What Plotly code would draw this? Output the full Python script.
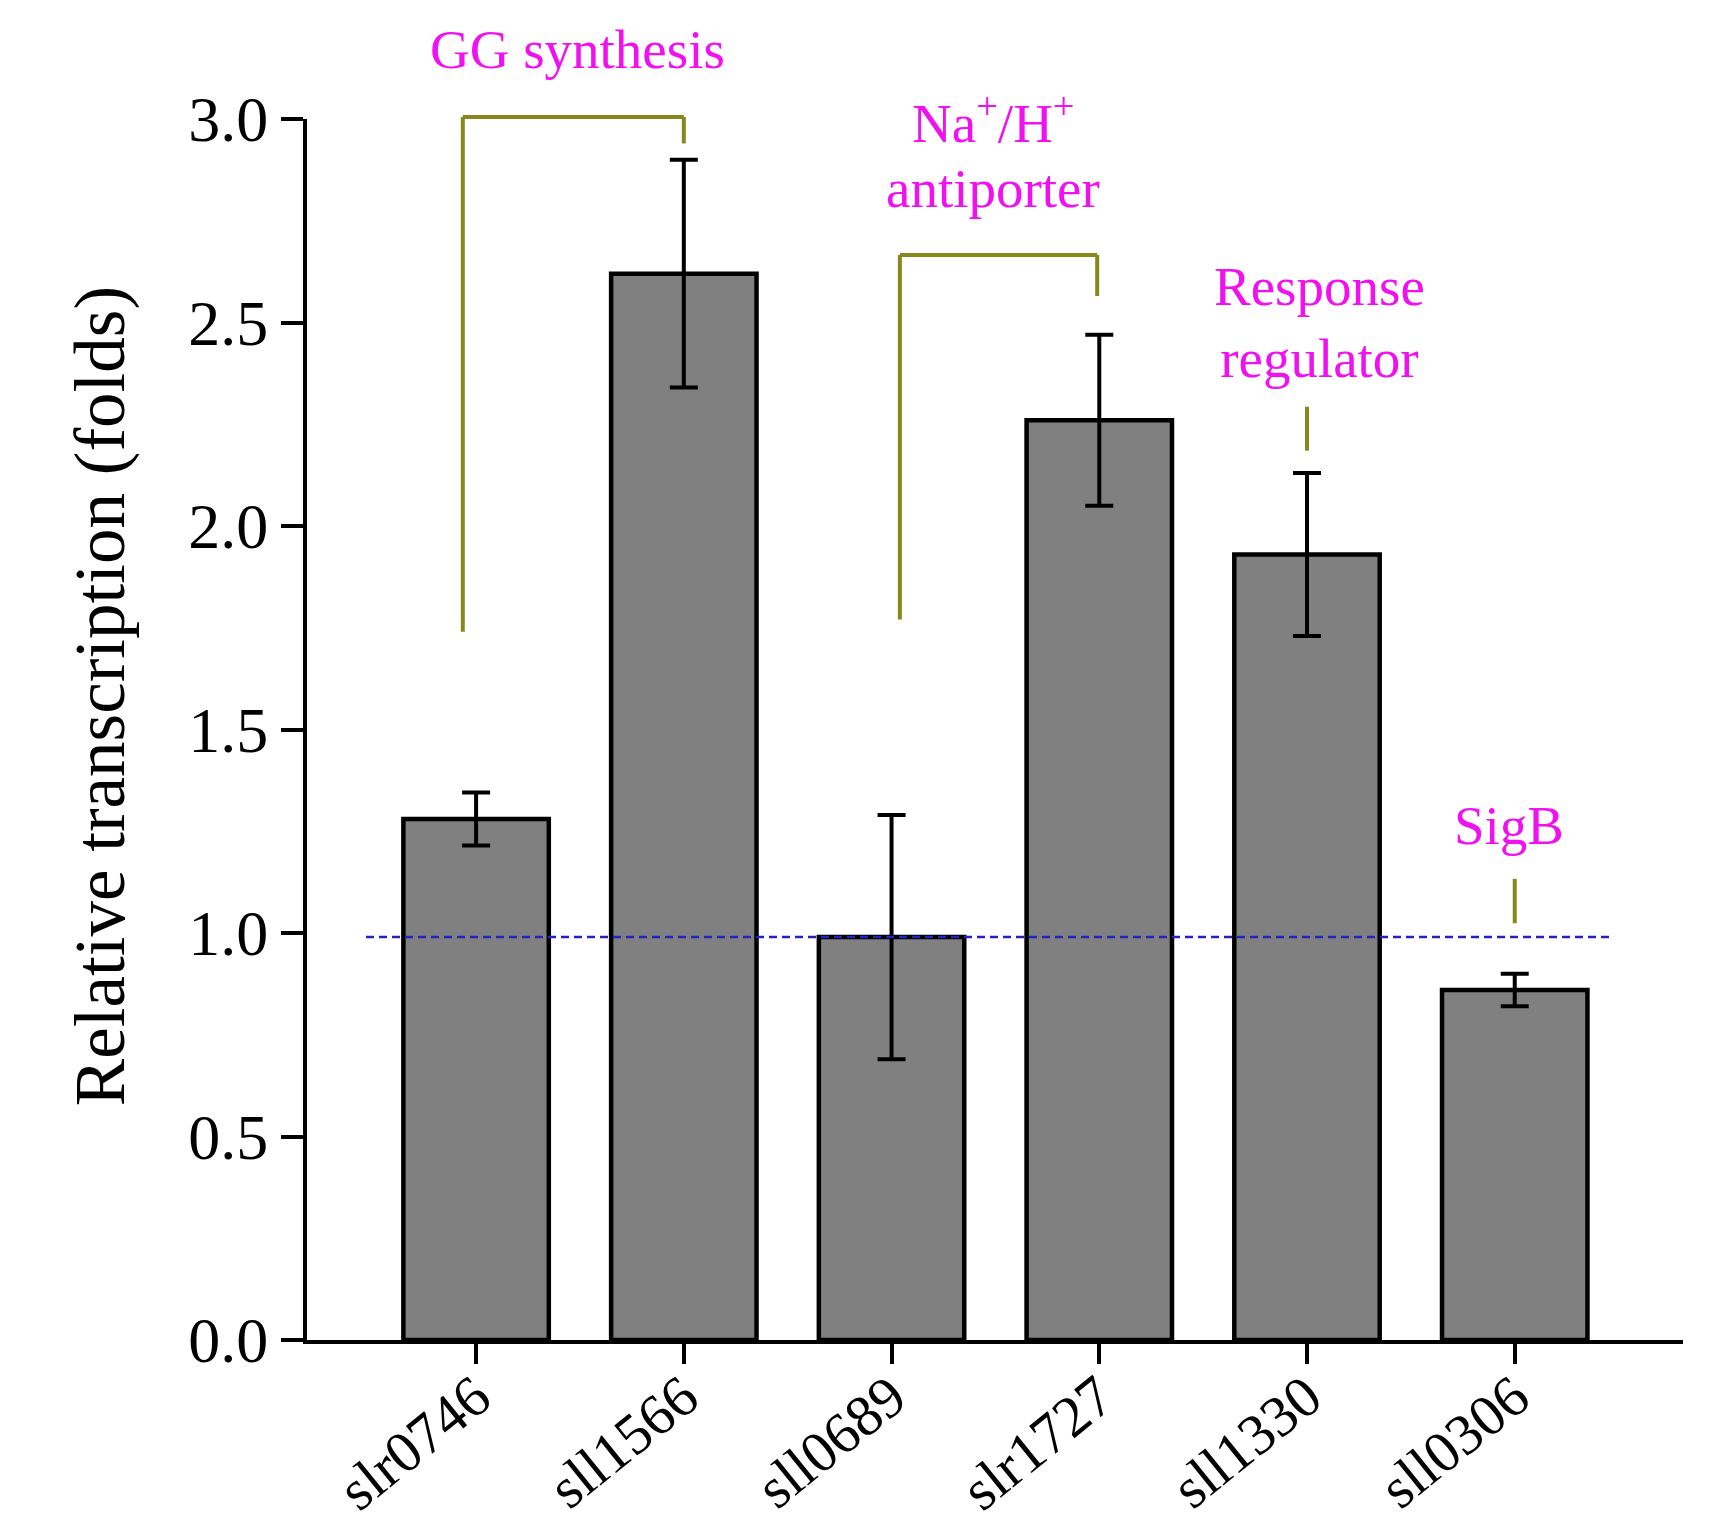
import plotly.graph_objects as go

# ---- data ----
genes = ["slr0746", "sll1566", "sll0689", "slr1727", "sll1330", "sll0306"]
values = [1.28, 2.62, 0.99, 2.26, 1.93, 0.86]
errors = [0.065, 0.28, 0.30, 0.21, 0.20, 0.04]
y_ticks = [0.0, 0.5, 1.0, 1.5, 2.0, 2.5, 3.0]
y_ticklabels = ["0.0", "0.5", "1.0", "1.5", "2.0", "2.5", "3.0"]
y_max = 3.0
ref_level = 0.99
ref_x = [-0.53, 5.46]

# annotation brackets (x in category index, y in folds)
gg_bracket_x = [-0.064, -0.064, 1.0, 1.0]
gg_bracket_y = [1.74, 3.005, 3.005, 2.94]
na_bracket_x = [2.04, 2.04, 2.99, 2.99]
na_bracket_y = [1.77, 2.666, 2.666, 2.565]
rr_line_x = [4.0, 4.0]
rr_line_y = [2.185, 2.293]
sig_line_x = [5.0, 5.0]
sig_line_y = [1.024, 1.133]

labels_text = ["GG synthesis", "Na<sup>+</sup>/H<sup>+</sup>", "antiporter",
               "Response<br>regulator", "SigB"]
labels_x = [0.49, 2.49, 2.49, 4.06, 4.97]
labels_y = [3.17, 3.0, 2.83, 2.50, 1.264]

y_title = "Relative transcription (folds)"

FONT = "Liberation Serif, Times New Roman, serif"
OLIVE = "#88881A"
MAGENTA = "#F010F0"

fig = go.Figure()

fig.add_trace(go.Bar(
    x=list(range(len(genes))), y=values, width=0.70,
    marker=dict(color="#808080", line=dict(color="black", width=4.5)),
    error_y=dict(type="data", array=errors, visible=True,
                 color="black", thickness=4, width=14),
    showlegend=False, hoverinfo="skip",
))

# reference dashed line
fig.add_trace(go.Scatter(
    x=ref_x, y=[ref_level, ref_level], mode="lines",
    line=dict(color="#2323C0", width=2.5, dash="8px,5px"),
    showlegend=False, hoverinfo="skip",
))

# bracket / pointer lines (y expressed as fraction of the y range so they are not clipped)
for xs, ys in [(gg_bracket_x, gg_bracket_y), (na_bracket_x, na_bracket_y),
               (rr_line_x, rr_line_y), (sig_line_x, sig_line_y)]:
    for i in range(len(xs) - 1):
        fig.add_shape(type="line", xref="x", yref="paper",
                      x0=xs[i], x1=xs[i + 1],
                      y0=ys[i] / y_max, y1=ys[i + 1] / y_max,
                      line=dict(color=OLIVE, width=4), layer="above")

for t, xx, yy in zip(labels_text, labels_x, labels_y):
    fig.add_annotation(x=xx, y=yy / y_max, xref="x", yref="paper",
                       text=t, showarrow=False,
                       font=dict(family=FONT, size=55, color=MAGENTA),
                       xanchor="center", yanchor="middle")

# y axis title placed as a rotated annotation
fig.add_annotation(x=-0.150, y=0.527, xref="paper", yref="paper",
                   text=y_title, textangle=-90, showarrow=False,
                   font=dict(family=FONT, size=71, color="black"),
                   xanchor="center", yanchor="middle")

# short extension of the x axis line to the left of the y axis
fig.add_shape(type="line", xref="paper", yref="paper", x0=-0.013, x1=0, y0=0, y1=0,
              line=dict(color="black", width=4))

fig.update_layout(
    width=1735, height=1533,
    margin=dict(l=299, r=60, t=111, b=201),
    plot_bgcolor="white", paper_bgcolor="white",
    font=dict(family=FONT, color="black"),
    xaxis=dict(
        range=[-0.814, 5.81], tickmode="array",
        tickvals=list(range(len(genes))), ticktext=genes,
        tickangle=-39, tickfont=dict(family=FONT, size=58, color="black"),
        ticklabelstandoff=-24,
        showline=True, linecolor="black", linewidth=4,
        ticks="outside", ticklen=20, tickwidth=4, tickcolor="black",
        showgrid=False, zeroline=False, automargin=False,
    ),
    yaxis=dict(
        range=[0, y_max], tickmode="array", tickvals=y_ticks, ticktext=y_ticklabels,
        tickfont=dict(family=FONT, size=64, color="black"),
        showline=True, linecolor="black", linewidth=4,
        ticks="outside", ticklen=22, tickwidth=4, tickcolor="black",
        showgrid=False, zeroline=False, automargin=False,
    ),
)

fig.write_html("out.html")
